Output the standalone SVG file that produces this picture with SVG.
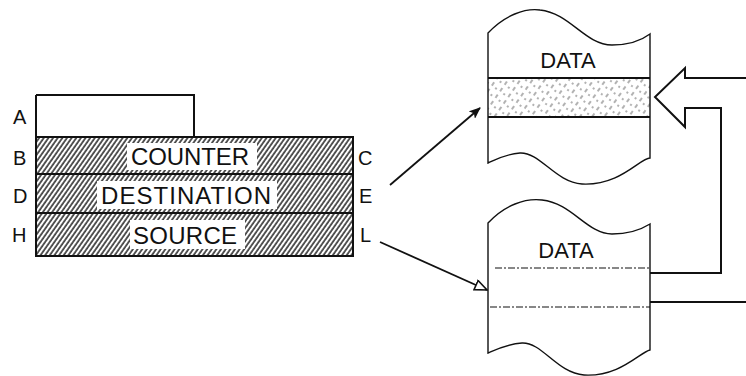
<svg xmlns="http://www.w3.org/2000/svg" width="746" height="376" viewBox="0 0 746 376">
<style>
.ln{fill:none;stroke:#111;stroke-width:2}
.thin{fill:none;stroke:#111;stroke-width:1.4}
.arr{fill:none;stroke:#111;stroke-width:1.8}
.lbl{font-family:"Liberation Sans",Arial,sans-serif;font-size:20px;fill:#111}
.reg{font-family:"Liberation Sans",Arial,sans-serif;font-size:24px;fill:#111;text-anchor:middle}
.dat{font-family:"Liberation Sans",Arial,sans-serif;font-size:22px;fill:#111;text-anchor:middle}
.dash{fill:none;stroke:#111;stroke-width:1.2;stroke-dasharray:7 2 2 2}
</style>
<defs>
<pattern id="hatch" patternUnits="userSpaceOnUse" width="3.8" height="8" patternTransform="rotate(35)">
<rect width="3.8" height="8" fill="#fff"/>
<line x1="1" y1="0" x2="1" y2="8" stroke="#111" stroke-width="1.4"/>
</pattern>
<pattern id="stip" patternUnits="userSpaceOnUse" width="10" height="16" patternTransform="rotate(35)">
<rect width="10" height="16" fill="#fff"/>
<line x1="2" y1="0" x2="2" y2="16" stroke="#555" stroke-width="0.9" stroke-dasharray="4 4"/>
<line x1="7" y1="3" x2="7" y2="19" stroke="#555" stroke-width="0.9" stroke-dasharray="2 6"/>
</pattern>
<marker id="fa" markerWidth="12" markerHeight="10" refX="11" refY="5" orient="auto" markerUnits="userSpaceOnUse">
<path d="M0,0 L12,5 L0,10 L3,5 Z" fill="#111"/>
</marker>
<marker id="oa" markerWidth="14" markerHeight="12" refX="13" refY="6" orient="auto" markerUnits="userSpaceOnUse">
<path d="M1,1 L13,6 L1,11 Z" fill="#fff" stroke="#111" stroke-width="1.6"/>
</marker>
</defs>
<rect width="746" height="376" fill="#fff"/>

<g id="register">
<rect x="36" y="137" width="317" height="119" fill="url(#hatch)"/>
<rect x="127" y="143" width="130" height="27" fill="#fff"/>
<rect x="97" y="181" width="180" height="28" fill="#fff"/>
<rect x="130" y="220" width="115" height="29" fill="#fff"/>
<path class="ln" d="M36,95 H194 V137"/>
<path class="ln" d="M36,95 V256 H353 V137 H36"/>
<line class="ln" x1="36" y1="174" x2="353" y2="174"/>
<line class="ln" x1="36" y1="213" x2="353" y2="213"/>
<text class="reg" x="190" y="165" textLength="118">COUNTER</text>
<text class="reg" x="186" y="204" textLength="170">DESTINATION</text>
<text class="reg" x="185" y="244" textLength="104">SOURCE</text>
<text class="lbl" x="13" y="124">A</text>
<text class="lbl" x="13" y="165">B</text>
<text class="lbl" x="13" y="203">D</text>
<text class="lbl" x="12" y="242">H</text>
<text class="lbl" x="358" y="165">C</text>
<text class="lbl" x="359" y="203">E</text>
<text class="lbl" x="360" y="242">L</text>
</g>

<g id="memory-top">
<rect x="488" y="78" width="162" height="39" fill="url(#stip)"/>
<path class="thin" d="M488,163 V33 C505,15 525,8 540,10 C570,13 585,45 612,45 C630,45 642,40 650,34 V158 C640,158 620,186 582,184 C555,182 540,152 520,153 C505,154 495,160 488,163 Z"/>
<line class="ln" x1="488" y1="78" x2="650" y2="78"/>
<line class="ln" x1="488" y1="117" x2="650" y2="117"/>
<text class="dat" x="568" y="68">DATA</text>
</g>

<g id="memory-bottom">
<path class="thin" d="M488,353 V223 C505,205 525,198 542,200 C572,203 587,234 612,234 C630,234 642,229 650,224 V350 C640,352 620,377 584,375 C557,373 542,342 522,343 C507,344 495,350 488,353 Z"/>
<line class="dash" x1="495" y1="268" x2="650" y2="268"/>
<line class="dash" x1="490" y1="307" x2="650" y2="307"/>
<text class="dat" x="566" y="258">DATA</text>
</g>

<g id="connectors">
<line class="arr" x1="390" y1="185" x2="480" y2="108" marker-end="url(#fa)"/>
<line class="arr" x1="380" y1="242" x2="487" y2="290" marker-end="url(#oa)"/>
<path class="ln" d="M746,78 H685 V68 L655,97 L685,127 V108 H721 V273 H650"/>
<line class="ln" x1="650" y1="302" x2="746" y2="302"/>
</g>
</svg>
